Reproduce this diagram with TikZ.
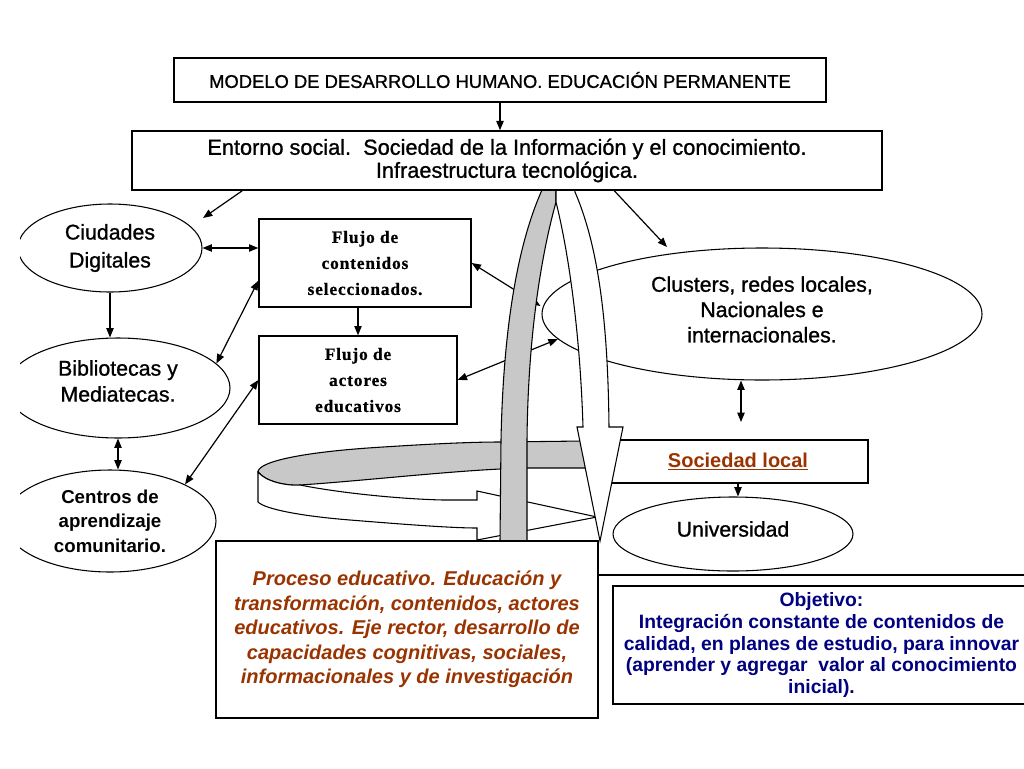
\documentclass[tikz,border=0pt]{standalone}
\usepackage{fontspec}
\setmainfont{Liberation Sans}
\newfontfamily\heavy{Liberation Sans}[FakeBold=1]
\newfontfamily\flujofont{Liberation Serif}[LetterSpace=5,FakeBold=0.8]
\usetikzlibrary{arrows.meta,calc,shapes.geometric}
\definecolor{procbrown}{RGB}{153,51,0}
\definecolor{objnavy}{RGB}{0,0,128}
\definecolor{ringgray}{RGB}{200,200,200}
\begin{document}
\begin{tikzpicture}[x=0.75pt,y=-0.75pt,
  box/.style={draw,line width=1.1pt,fill=white,inner sep=0pt,align=center},
  ell/.style={draw,ellipse,line width=0.8pt,fill=white,inner sep=0pt},
  etxt/.style={align=center,font=\heavy\fontsize{16pt}{20pt}\selectfont},
  flujo/.style={box,line width=1pt,font=\flujofont\bfseries\fontsize{13pt}{19.5pt}\selectfont},
  arr/.style={line width=0.9pt,-{Triangle[length=7pt,width=5.5pt]}},
  darr/.style={line width=0.9pt,{Triangle[length=7pt,width=5.5pt]}-{Triangle[length=7pt,width=5.5pt]}},
  band/.style={line width=0.8pt}
  ]
\useasboundingbox[fill=white] (0,0) rectangle (1024,768);

% left ellipses, clipped at the left edge
\begin{scope}
\clip (20,0) rectangle (1024,768);
\node[ell,minimum width=138pt,minimum height=66pt,
  label={[etxt,font=\heavy\fontsize{16pt}{21pt}\selectfont]center:{Ciudades\\Digitales}}] (cd) at (110,248) {};
\node[ell,minimum width=168pt,minimum height=75pt,
  label={[etxt,yshift=5.25pt,font=\heavy\fontsize{16pt}{19.5pt}\selectfont]center:{Bibliotecas y\\Mediatecas.}}] (bib) at (118,388) {};
\node[ell,minimum width=159pt,minimum height=76.5pt,
  label={[align=center,font=\bfseries\fontsize{14pt}{18.4pt}\selectfont]center:{Centros de\\aprendizaje\\comunitario.}}] (cen) at (110,521) {};
\end{scope}

% flujo boxes
\node[flujo,minimum width=159pt,minimum height=66pt] (fc) at (365,263) {Flujo de\\contenidos\\seleccionados.};
\node[flujo,minimum width=148.5pt,minimum height=66pt] (fa) at (358,380) {Flujo de\\actores\\educativos};

% right side
\node[ell,minimum width=330pt,minimum height=99pt,
  label={[etxt,yshift=3.4pt,font=\heavy\fontsize{16pt}{19pt}\selectfont]center:{Clusters, redes locales,\\Nacionales e\\internacionales.}}] (cl) at (762,314) {};
\node[box,minimum width=195pt,minimum height=32.25pt,
  font=\bfseries\fontsize{15pt}{18pt}\selectfont,text=procbrown] (sl) at (738,461.5) {\underline{Sociedad local}};
\node[ell,minimum width=180pt,minimum height=55.5pt,
  label={[etxt,yshift=3.75pt]center:{Universidad}}] (un) at (733,534) {};

% connectors
\draw[arr] (cd.south) -- (cd.south |- bib.north);
\draw[darr] (bib.south) -- (bib.south |- cen.north);
\draw[darr] (cd.east) -- (cd.east -| fc.west);
\draw[darr] (bib.14) -- ($(fc.south west)+(0,-27)$);
\draw[darr] (cen.26) -- (fa.west);
\draw[arr] (fc.south -| 358,0) -- (fa.north -| 358,0);
\draw[darr] (fc.east) -- ($(cl.west)+(-1,-8)$);
\draw[darr] (fa.east) -- (cl.187);
\coordinate (slup) at (741,422);
\draw[darr] (cl.south -| slup) -- (slup);
\draw[arr] (sl.south) -- (sl.south |- un.north);

% horizontal ring arrow
\filldraw[band,fill=ringgray] (258,472) .. controls (258,462) and (300,452) .. (383,447)
  .. controls (430,444) and (470,442) .. (500,442) -- (584,441) -- (588,468) -- (527,468) -- (500,469)
  .. controls (440,472) and (360,481) .. (300,485) .. controls (285,486) and (265,481) .. (258,472) -- cycle;
\filldraw[band,fill=white] (258,472) -- (258,502) .. controls (265,509) and (300,516) .. (350,520)
  .. controls (400,524) and (450,528) .. (477,528) -- (477,540) -- (597,517) -- (477,491) -- (477,500)
  -- (443,500) .. controls (400,499) and (340,493) .. (300,485)
  .. controls (285,486) and (265,481) .. (258,472) -- cycle;

% vertical arch arrow
\filldraw[band,fill=ringgray] (500,541) -- (501,440) .. controls (503,340) and (515,250) .. (542,190)
  -- (545,165) -- (556,165) -- (556,202) .. controls (540,260) and (528,340) .. (527,440) -- (527,541) -- cycle;
\filldraw[band,fill=white] (556,202) .. controls (568,250) and (580,330) .. (583,427) -- (577,427)
  -- (600,541) -- (623,427) -- (609,427) .. controls (608,330) and (600,250) .. (575,192)
  -- (570,165) -- (556,165) -- cycle;

% top boxes
\node[box,minimum width=489pt,minimum height=33pt,font=\heavy\fontsize{13.8pt}{16pt}\selectfont] (title) at (500,80)
  {MODELO DE DESARROLLO HUMANO. EDUCACIÓN PERMANENTE};
\node[box,minimum width=562.5pt,minimum height=44.25pt,font=\heavy\fontsize{16.3pt}{17.25pt}\selectfont] (ent) at (507,160.5)
  {Entorno social.\ \ Sociedad de la Información y el conocimiento.\\Infraestructura tecnológica.};
\draw[arr] (title.south) -- (title.south |- ent.north);
\coordinate (cdtip) at (203,218);
\coordinate (cltip) at (667,247);
\draw[arr] ($(ent.south west)+(111,0)$) -- (cdtip);
\draw[arr] ($(ent.south west)+(483,0)$) -- (cltip);

% bottom boxes
\node[box,minimum width=286.5pt,minimum height=132.75pt,text=procbrown,
  font=\bfseries\itshape\fontsize{15pt}{18.4pt}\selectfont] (pr) at (407,629.5)
  {Proceso educativo. Educación y\\transformación, contenidos, actores\\educativos. Eje rector, desarrollo de\\capacidades cognitivas, sociales,\\informacionales y de investigación};
\draw[line width=1.3pt] ($(pr.north east)+(0,35)$) -- ++(440,0);
\node[box,minimum width=312.75pt,minimum height=88.5pt,text=objnavy,
  font=\bfseries\fontsize{14.5pt}{16.3pt}\selectfont] (ob) at (821.5,645)
  {Objetivo:\\Integración constante de contenidos de\\calidad, en planes de estudio, para innovar\\(aprender y agregar\ \ valor al conocimiento\\inicial).};
\end{tikzpicture}
\end{document}
